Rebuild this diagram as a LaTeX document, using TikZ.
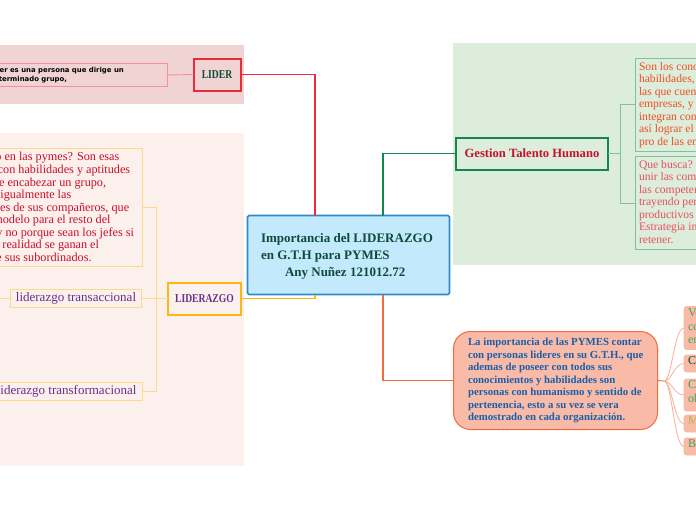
\documentclass[tikz,border=0pt]{standalone}
\usepackage{fontspec}
\setmainfont{Liberation Serif}
\newfontfamily\boldsans{DejaVu Sans}
\definecolor{cbluefill}{HTML}{C3E9FC}
\definecolor{cblue}{HTML}{2E8BC9}
\definecolor{cdark}{HTML}{0F4A3A}
\definecolor{cred}{HTML}{EE2A3A}
\definecolor{credbg}{HTML}{F0D3D3}
\definecolor{credline}{HTML}{F58F98}
\definecolor{cgreen}{HTML}{15864F}
\definecolor{cgreenbg}{HTML}{DCEDDB}
\definecolor{cgreenline}{HTML}{7FC29B}
\definecolor{corange}{HTML}{F26A3D}
\definecolor{corfill}{HTML}{F9BBA7}
\definecolor{corline}{HTML}{F9B79F}
\definecolor{cyellow}{HTML}{FDB714}
\definecolor{cyellowbg}{HTML}{FBF0EB}
\definecolor{cyellowline}{HTML}{FDD98A}
\definecolor{cpurple}{HTML}{66308F}
\definecolor{ccrimson}{HTML}{C8102E}
\definecolor{ctextorange}{HTML}{EE4F23}
\definecolor{ctextpink}{HTML}{E8505B}
\definecolor{ctextblue}{HTML}{1B5FAA}
\definecolor{ctextgreen}{HTML}{3FA35F}
\definecolor{ctextlime}{HTML}{A9B84F}
\tikzset{
  x=1pt,y=-1pt,
  every node/.style={inner sep=0pt,outer sep=0pt,font=\fontsize{11}{14.5}\selectfont},
  linkline/.style={line width=0.9pt},
  mainlink/.style={line width=1.3pt},
  tx/.style={anchor=north west,align=left},
  emptybox/.style={line width=0.9pt,anchor=north west},
  smallbox/.style={draw=corline,fill=corfill,line width=0.9pt,rounded corners=3pt,minimum width=30pt,anchor=north west},
  smalltx/.style={tx,font=\fontsize{12}{13.3}\selectfont},
}
\begin{document}
\begin{tikzpicture}
\useasboundingbox (0,0) rectangle (696,520);
\clip (0,0) rectangle (696,520);
\fill[white] (0,0) rectangle (696,520);
% background panels
\fill[credbg] (-5,45) rectangle (244,104);
\fill[cyellowbg] (-5,133) rectangle (244,466);
\fill[cgreenbg] (453,43) rectangle (700,265);
% boxes
\node[emptybox,draw=credline,minimum width=172pt,minimum height=23pt] (lidertext) at (-5,63.5) {};
\node[tx,font=\boldsans\bfseries\fontsize{6.9}{8.9}\selectfont,text=black] (lidertextb) at (-23,67) {Un lider es una persona que dirige un\\un determinado grupo,};
\node[draw=cred,line width=2pt,minimum width=47pt,minimum height=32pt,anchor=north west,text=cdark,font=\bfseries\fontsize{12}{14}\selectfont\addfontfeature{FakeStretch=0.8}] (lider) at (193.5,58.5) {LIDER};
\node[emptybox,draw=cyellowline,minimum width=147pt,minimum height=118pt] (defbox) at (-5,148) {};
\node[tx,text=ccrimson,font=\fontsize{12.2}{12.55}\selectfont] (deftext) at (-48,152.5) {Liderazgo en las pymes? Son esas\\personas con habilidades y aptitudes\\capaces de encabezar un grupo,\\sirviendo igualmente las\\necesidades de sus compañeros, que\\sirve de modelo para el resto del\\personal y no porque sean los jefes si\\no que en realidad se ganan el\\respeto de sus subordinados.};
\node[draw=cyellowline,line width=0.9pt,minimum width=131pt,minimum height=18pt,anchor=north west,text=cpurple,font=\fontsize{13}{13}\selectfont] (trans) at (10.5,289.5) {liderazgo transaccional};
\node[emptybox,draw=cyellowline,minimum width=147pt,minimum height=18pt] (transfbox) at (-5,382) {};
\node[anchor=east,text=cpurple,font=\fontsize{13}{13}\selectfont] (transf) at (136.5,391.5) {liderazgo transformacional};
\node[draw=cyellow,line width=2pt,minimum width=73pt,minimum height=32pt,anchor=north west,text=cpurple,font=\bfseries\fontsize{12}{13}\selectfont\addfontfeature{FakeStretch=0.8}] (liderazgo) at (168,282.5) {LIDERAZGO};
\node[draw=cblue,fill=cbluefill,line width=1.6pt,rounded corners=1.5pt,minimum width=202pt,minimum height=79pt,anchor=north west] (central) at (247.5,215.5) {};
\node[tx,text=cdark,font=\bfseries\fontsize{13}{17}\selectfont] (centraltext) at (261,233) {Importancia del LIDERAZGO\\en G.T.H para PYMES\\\hspace*{24pt}Any Nuñez 121012.72};
\node[draw=cgreen,line width=2pt,minimum width=152pt,minimum height=32pt,anchor=north west,text=ccrimson,font=\bfseries\fontsize{12.6}{15}\selectfont] (gestion) at (456,137.5) {Gestion Talento Humano};
\node[emptybox,draw=cgreenline,minimum width=70pt,minimum height=93pt] (conbox) at (635,58) {};
\node[tx,text=ctextorange,font=\fontsize{11.6}{12.55}\selectfont] (context) at (639,62) {Son los conocimientos,\\habilidades, aptitudes\\las que cuentan las\\empresas, y que\\integran con el fin de\\así lograr el bienestar\\pro de las empresas.};
\node[emptybox,draw=cgreenline,minimum width=70pt,minimum height=93pt] (quebox) at (635,156.5) {};
\node[tx,text=ctextpink,font=\fontsize{11.6}{12.55}\selectfont] (quetext) at (639,160) {Que busca? unir y\\unir las competencias\\las competencias\\trayendo personas\\productivos para la\\Estrategia integral para\\retener.};
\node[draw=corange,fill=corfill,line width=1pt,rounded corners=17pt,minimum width=204pt,minimum height=98pt,anchor=north west] (pymes) at (453.5,331.5) {};
\node[tx,text=ctextblue,font=\bfseries\fontsize{10.8}{12.55}\selectfont] (pymestext) at (468,338) {La importancia de las PYMES contar\\con personas lideres en su G.T.H., que\\ademas de poseer con todos sus\\conocimientos y habilidades son\\personas con humanismo y sentido de\\pertenencia, esto a su vez se vera\\demostrado en cada organización.};
% small boxes right
\foreach \nm/\yy/\hh in {va/306.5/43, cz/355/17, co/379/32, ma/415/17, bu/438/17}{
  \node[smallbox,minimum height=\hh pt] (\nm) at (684,\yy) {};
}
\node[smalltx,text=ctextgreen] (vatext) at (688,309) {Ve\\co\\en};
\node[smalltx,text=cdark] (cztext) at (688,357) {Cz};
\node[smalltx,text=ctextgreen] (cotext) at (688,381) {Co\\ob};
\node[smalltx,text=ctextlime] (matext) at (688,417) {Ma};
\node[smalltx,text=ctextgreen] (butext) at (688,440) {Bu};
% connectors
\coordinate (hubr) at (664,381);
\coordinate (hubl) at (156,298.5);
\coordinate (hubg) at (620,153.5);
\draw[cred,mainlink] (lider.east) -| ([xshift=-33.5pt]central.north);
\draw[cgreen,mainlink] (gestion.west) -| ([xshift=34.5pt]central.north);
\draw[corange,mainlink] ([xshift=34.5pt]central.south) |- (pymes.west);
\draw[cyellow,mainlink] (liderazgo.east) -| ([xshift=-33.5pt]central.south);
\draw[credline,linkline] (lidertext.east) -- (lider.west);
\draw[cyellowline,linkline] (liderazgo.west) -- (trans.east);
\draw[cyellowline,linkline] (hubl) |- (defbox.east);
\draw[cyellowline,linkline] (hubl) |- (transfbox.east);
\draw[cyellowline,linkline] (trans.west) -- (0,298.5);
\draw[cgreenline,linkline] (gestion.east) -- (hubg);
\draw[cgreenline,linkline] (hubg) |- (conbox.west);
\draw[cgreenline,linkline] (hubg) |- (quebox.west);
\draw[corange,linkline] (pymes.east) -- (hubr);
\foreach \nm in {va,cz,co,ma,bu}{
  \draw[corline,linkline] (hubr) .. controls ([xshift=8pt]hubr) and ([xshift=-10pt]\nm.west) .. (\nm.west);
}
\end{tikzpicture}
\end{document}
